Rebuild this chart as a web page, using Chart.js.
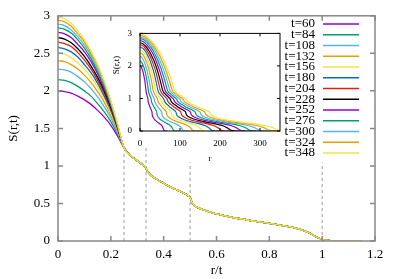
<!DOCTYPE html>
<html><head><meta charset="utf-8">
<script src="https://cdn.jsdelivr.net/npm/chart.js@4.4.0/dist/chart.umd.min.js"></script>
<style>
html,body{margin:0;padding:0;background:#fff;}
#wrap{position:relative;width:399px;height:279px;overflow:hidden;}
#main{position:absolute;left:0;top:0;}
#inset{position:absolute;left:100px;top:20px;}
</style></head><body>
<div id="wrap"><canvas id="main" width="399" height="279"></canvas><canvas id="inset" width="190" height="150"></canvas></div>
<script>
// ---- data ----
const times = [60, 84, 108, 132, 156, 180, 204, 228, 252, 276, 300, 324, 348];
const seriesLabels = ['t=60','t=84','t=108','t=132','t=156','t=180','t=204','t=228','t=252','t=276','t=300','t=324','t=348'];
const colors = ['#9400d3','#009e73','#56b4e9','#e69f00','#f0e442','#0072b2','#e51e10','#000000','#9400d3','#009e73','#56b4e9','#e69f00','#f0e442'];

// r/t grid of the core region (each series differs here)
const xHead = [0, 0.025, 0.05, 0.075, 0.1, 0.125, 0.15, 0.175, 0.2, 0.225, 0.25];
const s60  = [2.00, 1.99, 1.97, 1.93, 1.88, 1.82, 1.74, 1.65, 1.54, 1.40, 1.24];
const s84  = [2.15, 2.14, 2.11, 2.06, 2.00, 1.93, 1.83, 1.72, 1.59, 1.43, 1.24];
const s108 = [2.29, 2.28, 2.25, 2.19, 2.12, 2.03, 1.92, 1.79, 1.64, 1.45, 1.24];
const s132 = [2.40, 2.39, 2.35, 2.29, 2.21, 2.11, 1.99, 1.85, 1.68, 1.47, 1.24];
const s156 = [2.50, 2.49, 2.44, 2.37, 2.29, 2.18, 2.05, 1.90, 1.71, 1.49, 1.24];
const s180 = [2.58, 2.56, 2.52, 2.45, 2.35, 2.24, 2.10, 1.93, 1.74, 1.50, 1.24];
const s204 = [2.65, 2.63, 2.59, 2.51, 2.41, 2.29, 2.14, 1.97, 1.76, 1.51, 1.24];
const s228 = [2.71, 2.69, 2.64, 2.56, 2.46, 2.33, 2.18, 2.00, 1.78, 1.52, 1.24];
const s252 = [2.78, 2.76, 2.71, 2.62, 2.52, 2.39, 2.23, 2.03, 1.80, 1.53, 1.24];
const s276 = [2.84, 2.82, 2.77, 2.68, 2.57, 2.43, 2.26, 2.06, 1.82, 1.54, 1.24];
const s300 = [2.89, 2.87, 2.81, 2.72, 2.61, 2.47, 2.29, 2.09, 1.84, 1.55, 1.24];
const s324 = [2.94, 2.92, 2.86, 2.76, 2.65, 2.50, 2.33, 2.11, 1.86, 1.56, 1.24];
const s348 = [2.98, 2.96, 2.90, 2.80, 2.68, 2.53, 2.35, 2.13, 1.87, 1.57, 1.24];
const heads = [s60, s84, s108, s132, s156, s180, s204, s228, s252, s276, s300, s324, s348];

// collapsed scaling tail (all series coincide here)
const xTail = [0.275, 0.3, 0.315, 0.326, 0.333, 0.34, 0.35, 0.37, 0.4, 0.425, 0.45, 0.475, 0.49, 0.5, 0.508, 0.518, 0.53, 0.55, 0.575, 0.6, 0.65, 0.7, 0.75, 0.8, 0.85, 0.9, 0.95, 0.975, 1.0, 1.025, 1.05, 1.15];
const sTail = [1.14, 1.07, 1.03, 1.00, 0.97, 0.92, 0.88, 0.83, 0.77, 0.72, 0.68, 0.64, 0.61, 0.58, 0.51, 0.47, 0.445, 0.415, 0.385, 0.36, 0.32, 0.29, 0.26, 0.235, 0.205, 0.17, 0.11, 0.06, 0.02, 0.008, 0, 0];

// dashed reference lines
const dashX = [0.25, 1/3, 0.5, 1.0];
const dashTop = [1.2, 1.25, 1.05, 1.05];

const mainXTicks = [0, 0.2, 0.4, 0.6, 0.8, 1, 1.2];
const mainYTicks = [0, 0.5, 1, 1.5, 2, 2.5, 3];
const insetXTicks = [0, 100, 200, 300];
const insetYTicks = [0, 1, 2, 3];

// ---- build ----
const FONT = '"Liberation Serif", "Times New Roman", serif';
const xs = xHead.concat(xTail);
const mainSets = heads.map((h, i) => ({
  label: seriesLabels[i],
  data: h.concat(sTail).map((v, j) => ({x: xs[j], y: v})),
  borderColor: colors[i], borderWidth: 1.3, pointRadius: 0,
  cubicInterpolationMode: 'monotone', fill: false, order: 13 - i
}));
dashX.forEach((dx, k) => mainSets.push({
  label: '', data: [{x: dx, y: 0}, {x: dx, y: dashTop[k]}],
  borderColor: '#9a9a9a', borderWidth: 1, borderDash: [3, 3], pointRadius: 0, order: 50
}));
const insetSets = heads.map((h, i) => ({
  label: seriesLabels[i],
  data: h.concat(sTail).map((v, j) => ({x: xs[j] * times[i], y: v})),
  borderColor: colors[i], borderWidth: 1.2, pointRadius: 0,
  cubicInterpolationMode: 'monotone', fill: false, order: 13 - i
}));

function fmt(v){ return String(+Number(v).toFixed(2)); }

function framePlugin(color, width, len, xt, yt, white) {
  return {
    id: 'frame' + color,
    beforeDatasetsDraw(chart) {
      if (!white) return;
      const {ctx, chartArea: a} = chart;
      ctx.save(); ctx.fillStyle = '#fff'; ctx.fillRect(a.left, a.top, a.width, a.height); ctx.restore();
    },
    afterDatasetsDraw(chart) {
      const {ctx, chartArea: a, scales: {x, y}} = chart;
      ctx.save(); ctx.strokeStyle = color; ctx.lineWidth = width;
      ctx.beginPath();
      xt.forEach(v => { const p = x.getPixelForValue(v);
        ctx.moveTo(p, a.bottom); ctx.lineTo(p, a.bottom - len);
        ctx.moveTo(p, a.top); ctx.lineTo(p, a.top + len); });
      yt.forEach(v => { const p = y.getPixelForValue(v);
        ctx.moveTo(a.left, p); ctx.lineTo(a.left + len, p);
        ctx.moveTo(a.right, p); ctx.lineTo(a.right - len, p); });
      ctx.stroke();
      ctx.strokeRect(a.left, a.top, a.right - a.left, a.bottom - a.top);
      ctx.restore();
    }
  };
}

const legendPlugin = {
  id: 'gpLegend',
  afterDraw(chart) {
    const ctx = chart.ctx;
    ctx.save();
    ctx.font = '13px ' + FONT; ctx.textAlign = 'right'; ctx.textBaseline = 'middle';
    seriesLabels.forEach((lab, i) => {
      const yy = 24 + i * 10.75;
      ctx.fillStyle = '#000'; ctx.fillText(lab, 315, yy);
      ctx.strokeStyle = colors[i]; ctx.lineWidth = 1.5;
      ctx.beginPath(); ctx.moveTo(323, yy); ctx.lineTo(359, yy); ctx.stroke();
    });
    ctx.restore();
  }
};

const insetYTitle = {
  id: 'insetYTitle',
  afterDraw(chart) {
    const ctx = chart.ctx;
    ctx.save();
    ctx.font = '9px ' + FONT; ctx.fillStyle = '#000';
    ctx.textAlign = 'center'; ctx.textBaseline = 'middle';
    ctx.translate(17, 45); ctx.rotate(-Math.PI / 2);
    ctx.fillText('S(r,t)', 0, 0);
    ctx.restore();
  }
};

Chart.defaults.font.family = FONT;
Chart.defaults.color = '#000';

new Chart(document.getElementById('main'), {
  type: 'line',
  data: {datasets: mainSets},
  options: {
    responsive: false, animation: false, devicePixelRatio: 1,
    layout: {padding: {left: 0, right: 24, top: 15, bottom: 0}},
    plugins: {legend: {display: false}, tooltip: {enabled: false}},
    scales: {
      x: {type: 'linear', min: 0, max: 1.2,
        afterBuildTicks(s){ s.ticks = mainXTicks.map(v => ({value: v})); },
        ticks: {font: {size: 13}, padding: 6, maxRotation: 0, callback: fmt},
        grid: {display: false, drawTicks: false}, border: {display: false},
        title: {display: true, text: 'r/t', font: {size: 13}, padding: {top: 0, bottom: 1}},
        afterFit(s){ s.height = 38; }},
      y: {type: 'linear', min: 0, max: 3,
        afterBuildTicks(s){ s.ticks = mainYTicks.map(v => ({value: v})); },
        ticks: {font: {size: 13}, padding: 8, callback: fmt},
        grid: {display: false, drawTicks: false}, border: {display: false},
        title: {display: true, text: 'S(r,t)', font: {size: 13}, padding: {top: 6, bottom: 0}},
        afterFit(s){ s.width = 58; }}
    }
  },
  plugins: [framePlugin('#888888', 1.5, 5, mainXTicks, mainYTicks, false), legendPlugin]
});

new Chart(document.getElementById('inset'), {
  type: 'line',
  data: {datasets: insetSets},
  options: {
    responsive: false, animation: false, devicePixelRatio: 1,
    layout: {padding: {left: 0, right: 10, top: 10, bottom: 0}},
    plugins: {legend: {display: false}, tooltip: {enabled: false}},
    scales: {
      x: {type: 'linear', min: 0, max: 350,
        afterBuildTicks(s){ s.ticks = insetXTicks.map(v => ({value: v})); },
        ticks: {font: {size: 9}, padding: 7, maxRotation: 0, callback: fmt},
        grid: {display: false, drawTicks: false}, border: {display: false},
        title: {display: true, text: 'r', font: {size: 9}, padding: {top: 0, bottom: 6}},
        afterFit(s){ s.height = 39; }},
      y: {type: 'linear', min: 0, max: 3,
        afterBuildTicks(s){ s.ticks = insetYTicks.map(v => ({value: v})); },
        ticks: {font: {size: 9}, padding: 8, callback: fmt},
        grid: {display: false, drawTicks: false}, border: {display: false},
        title: {display: false},
        afterFit(s){ s.width = 40; }}
    }
  },
  plugins: [framePlugin('#000000', 1, 3, insetXTicks, insetYTicks, true), insetYTitle]
});
</script>
</body></html>
